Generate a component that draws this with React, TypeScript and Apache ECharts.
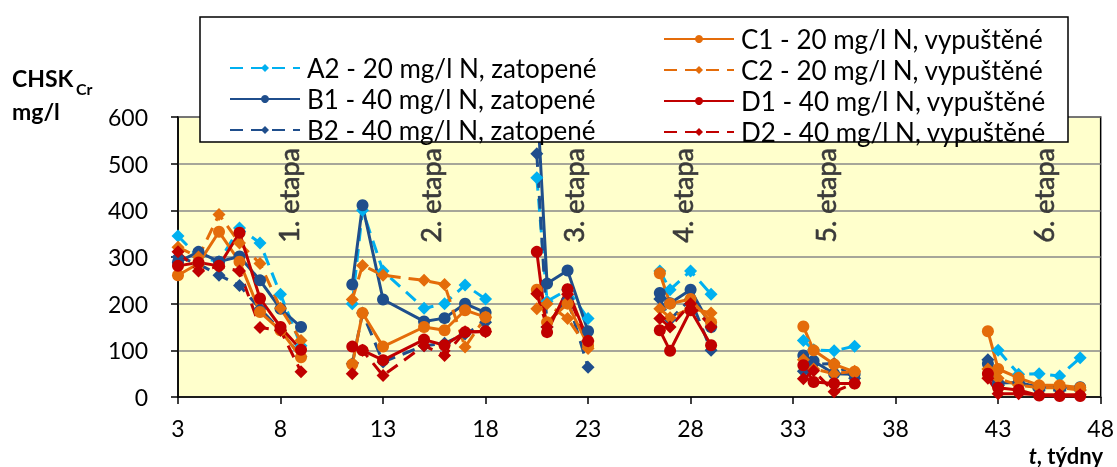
import React, { useEffect, useRef } from 'react';
import * as echarts from 'echarts';

// weeks of measurement, grouped by stage (etapa)
const ETAPA_WEEKS: number[][] = [
  [3, 4, 5, 6, 7, 8, 9],
  [11.5, 12, 13, 15, 16, 17, 18],
  [20.5, 21, 22, 23],
  [26.5, 27, 28, 29],
  [33.5, 34, 35, 36],
  [42.5, 43, 44, 45, 46, 47],
];

const ETAPA_LABELS = ['1. etapa', '2. etapa', '3. etapa', '4. etapa', '5. etapa', '6. etapa'];
const ETAPA_LABEL_WEEK = [8.4, 15.3, 22.3, 27.6, 34.6, 45.2];
const ETAPA_LABEL_VALUE = 432;

const X_TICKS = { min: 3, max: 48, interval: 5 };
const Y_TICKS = { min: 0, max: 600, interval: 100 };

const A2 = [
  [345, 300, 290, 362, 330, 220, 110],
  [200, 400, 270, 190, 200, 240, 210],
  [470, 205, 230, 168],
  [270, 230, 270, 220],
  [121, 101, 99, 109],
  [null, 100, 49, 50, 45, 84],
];
const B1 = [
  [289, 311, 290, 301, 250, 189, 150],
  [241, 411, 209, 162, 169, 200, 181],
  [650, 243, 271, 141],
  [223, 201, 230, 150],
  [89, 77, 50, 49],
  [71, 30, 31, 21, 21, 21],
];
const B2 = [
  [300, 285, 261, 239, 189, 143, 86],
  [71, 180, 75, 110, 115, 135, 160],
  [521, 150, 210, 64],
  [210, 166, 210, 100],
  [55, 70, 72, 40],
  [80, 25, 30, 15, 15, 15],
];
const C1 = [
  [261, 286, 354, 290, 182, 143, 85],
  [70, 180, 108, 150, 143, 186, 171],
  [230, 160, 200, 110],
  [265, 200, 210, 160],
  [151, 100, 70, 54],
  [141, 60, 41, 25, 25, 20],
];
const C2 = [
  [321, 300, 391, 330, 286, 190, 121],
  [209, 282, 261, 250, 241, 107, 171],
  [189, 200, 168, 104],
  [189, 170, 190, 180],
  [80, 60, 50, 55],
  [60, 40, 25, 20, 20, 15],
];
const D1 = [
  [281, 288, 281, 352, 211, 150, 101],
  [108, 100, 79, 123, 111, 139, 141],
  [311, 139, 231, 120],
  [143, 99, 186, 111],
  [68, 32, 29, 29],
  [50, 20, 15, 3, 2, 2],
];
const D2 = [
  [311, 270, 280, 270, 149, 143, 54],
  [50, 100, 46, 110, 89, 140, 140],
  [221, 150, 220, 120],
  [168, 150, 200, 150],
  [39, 56, 11, 30],
  [40, 7, 7, 5, 5, 5],
];

const SERIES_NAMES = {
  A2: 'A2 - 20 mg/l N, zatopené',
  B1: 'B1 - 40 mg/l N, zatopené',
  B2: 'B2 - 40 mg/l N, zatopené',
  C1: 'C1 - 20 mg/l N, vypuštěné',
  C2: 'C2 - 20 mg/l N, vypuštěné',
  D1: 'D1 - 40 mg/l N, vypuštěné',
  D2: 'D2 - 40 mg/l N, vypuštěné',
};

const LIGHT_BLUE = '#00B0F0';
const DARK_BLUE = '#1F4E8C';
const ORANGE = '#E46C0A';
const RED = '#C00000';
const FONT = 'Lato';

function buildData(values: (number | null)[][]) {
  const out: any[] = [];
  ETAPA_WEEKS.forEach((weeks, i) => {
    weeks.forEach((w, j) => {
      const v = values[i][j];
      out.push([w, v == null ? '-' : v]);
    });
    if (i < ETAPA_WEEKS.length - 1) out.push([weeks[weeks.length - 1] + 0.5, '-']);
  });
  return out;
}

function makeSeries(name: string, values: (number | null)[][], color: string, dashed: boolean) {
  return {
    name,
    type: 'line',
    data: buildData(values),
    connectNulls: false,
    symbol: dashed ? 'diamond' : 'circle',
    symbolSize: dashed ? 13 : 12,
    showSymbol: true,
    lineStyle: { color, width: 3, type: dashed ? [13, 8] : 'solid' },
    itemStyle: { color },
    emphasis: { disabled: true },
    z: 2,
  };
}

export default function App() {
  const ref = useRef<HTMLDivElement>(null);

  useEffect(() => {
    if (!ref.current) return;
    const chart = echarts.init(ref.current, null, { renderer: 'svg' });

    const series = [
      makeSeries(SERIES_NAMES.A2, A2, LIGHT_BLUE, true),
      makeSeries(SERIES_NAMES.B1, B1, DARK_BLUE, false),
      makeSeries(SERIES_NAMES.B2, B2, DARK_BLUE, true),
      makeSeries(SERIES_NAMES.C1, C1, ORANGE, false),
      makeSeries(SERIES_NAMES.C2, C2, ORANGE, true),
      makeSeries(SERIES_NAMES.D1, D1, RED, false),
      makeSeries(SERIES_NAMES.D2, D2, RED, true),
    ];

    const legendCommon = {
      orient: 'vertical',
      itemWidth: 70,
      itemHeight: 10,
      itemGap: 5,
      selectedMode: false,
      z: 20,
      textStyle: { fontFamily: FONT, fontSize: 26, color: '#000', lineHeight: 26, padding: [0, 0, 0, 2] },
    };

    chart.setOption({
      animation: false,
      grid: {
        left: 178,
        right: 16,
        top: 117,
        bottom: 70,
        show: true,
        backgroundColor: '#FFFFCC',
        borderColor: '#000',
        borderWidth: 1.5,
      },
      legend: [
        { ...legendCommon, left: 224, top: 50, data: [SERIES_NAMES.A2, SERIES_NAMES.B1, SERIES_NAMES.B2] },
        { ...legendCommon, left: 658, top: 21, data: [SERIES_NAMES.C1, SERIES_NAMES.C2, SERIES_NAMES.D1, SERIES_NAMES.D2] },
      ],
      xAxis: {
        type: 'value',
        min: X_TICKS.min,
        max: X_TICKS.max,
        interval: X_TICKS.interval,
        axisLine: { show: true, lineStyle: { color: '#000', width: 1.5 } },
        axisTick: { show: true, length: 7, lineStyle: { color: '#000', width: 1.5 } },
        axisLabel: { fontFamily: FONT, fontSize: 23, color: '#000', margin: 20, lineHeight: 22 },
        splitLine: { show: false },
      },
      yAxis: {
        type: 'value',
        min: Y_TICKS.min,
        max: Y_TICKS.max,
        interval: Y_TICKS.interval,
        axisLine: { show: true, lineStyle: { color: '#000', width: 1.5 } },
        axisTick: { show: true, length: 7, lineStyle: { color: '#000', width: 1.5 } },
        axisLabel: { fontFamily: FONT, fontSize: 23, color: '#000', margin: 30 },
        splitLine: { show: true, lineStyle: { color: '#888', width: 1.5 } },
      },
      series,
    });

    const etapaTexts = ETAPA_LABELS.map((t, i) => {
      const p = chart.convertToPixel({ xAxisIndex: 0, yAxisIndex: 0 }, [ETAPA_LABEL_WEEK[i], ETAPA_LABEL_VALUE]) as number[];
      return {
        type: 'text',
        x: p[0],
        y: p[1],
        rotation: Math.PI / 2,
        z: 3,
        style: {
          text: t,
          fontFamily: FONT,
          fontSize: 27,
          fill: '#3a3a3a',
          stroke: '#3a3a3a',
          lineWidth: 0.6,
          align: 'center',
          verticalAlign: 'middle',
        },
      };
    });

    chart.setOption({
      graphic: [
        {
          type: 'rect',
          shape: { x: 200, y: 17, width: 868, height: 125 },
          style: { fill: '#fff', stroke: '#000', lineWidth: 1.5 },
          z: 10,
        },
        ...etapaTexts,
        {
          type: 'text',
          x: 12,
          y: 66,
          style: { text: 'CHSK', fontFamily: FONT, fontSize: 23, fontWeight: 'bold', fill: '#000' },
        },
        {
          type: 'text',
          x: 76,
          y: 80,
          style: { text: 'Cr', fontFamily: FONT, fontSize: 16, fontWeight: 'bold', fill: '#000' },
        },
        {
          type: 'text',
          x: 12,
          y: 99,
          style: { text: 'mg/l', fontFamily: FONT, fontSize: 23, fontWeight: 'bold', fill: '#000' },
        },
        {
          type: 'text',
          x: 1103,
          y: 444,
          style: {
            text: '{i|t}{b|, týdny}',
            align: 'right',
            rich: {
              i: { fontFamily: FONT, fontSize: 22, fontWeight: 'bold', fontStyle: 'italic', fill: '#000', color: '#000', lineHeight: 22 },
              b: { fontFamily: FONT, fontSize: 22, fontWeight: 'bold', fill: '#000', color: '#000', lineHeight: 22 },
            },
          },
        },
      ],
    });

    return () => chart.dispose();
  }, []);

  return (
    <div
      ref={ref}
      style={{ position: 'fixed', left: 0, top: 0, width: 1117, height: 467 }}
    />
  );
}
